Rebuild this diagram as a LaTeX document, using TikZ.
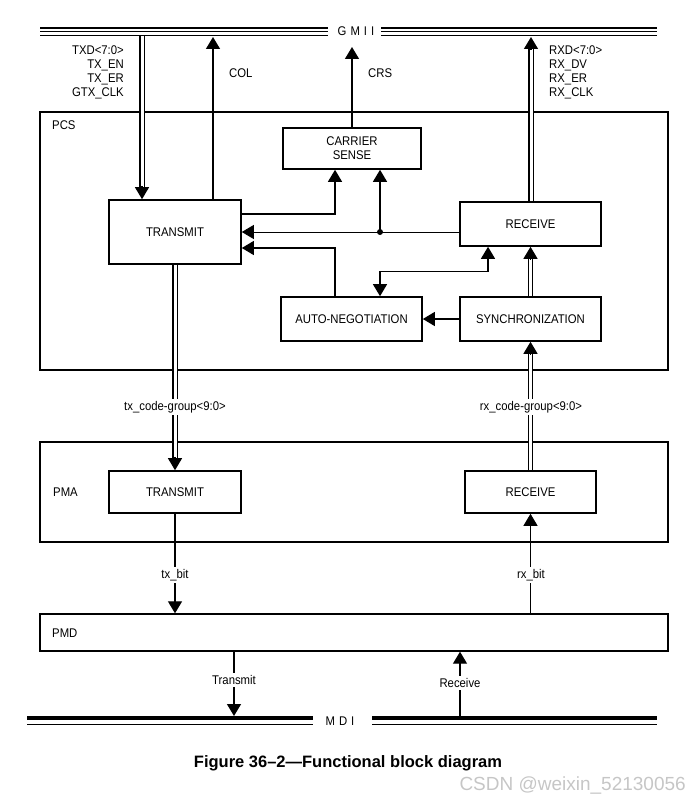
\documentclass[tikz,border=0pt]{standalone}
\usepackage{fontspec}
\setmainfont{Liberation Sans}
\newfontfamily\diafont{Liberation Sans}[FakeStretch=0.9]
\usetikzlibrary{arrows.meta}

\begin{document}
\begin{tikzpicture}[x=1pt,y=-1pt,
  font=\diafont\fontsize{12.6}{13.8}\selectfont,
  >={Triangle[length=12pt,width=14pt]},
  blk/.style={draw,line width=1.6pt,inner sep=0pt,align=center},
  lyr/.style={draw,line width=1.4pt,minimum width=628pt,inner sep=0pt},
  sig/.style={line width=1.3pt},
  fine/.style={line width=0.9pt},
  bus/.style={double,double distance=3pt,line width=1.3pt},
  txt/.style={inner sep=0pt},
  lbl/.style={fill=white,inner sep=2.5pt}]
\useasboundingbox (0,0) rectangle (699,802);

% layers
\node[lyr,minimum height=258pt] (pcs) at (354,241) {};
\node[lyr,minimum height=100pt] (pma) at (354,492) {};
\node[lyr,minimum height=37pt] (pmd) at (354,632.5) {};
\node[txt,anchor=west] (pcsname) at (52,125) {PCS};
\node[txt,anchor=west] (pmaname) at (53,492) {PMA};
\node[txt,anchor=west] (pmdname) at (52,633) {PMD};

% blocks
\node[blk,minimum width=132pt,minimum height=64pt] (ptx) at (175,232) {TRANSMIT};
\node[blk,minimum width=138pt,minimum height=41pt] (cs) at (352,148.5) {CARRIER\\SENSE};
\node[blk,minimum width=141pt,minimum height=44pt] (prx) at (530.5,224) {RECEIVE};
\node[blk,minimum width=141pt,minimum height=44pt] (an) at (351.5,319) {AUTO-NEGOTIATION};
\node[blk,minimum width=141pt,minimum height=44pt] (sync) at (530.5,319) {SYNCHRONIZATION};
\node[blk,minimum width=132pt,minimum height=42pt] (mtx) at (175,492) {TRANSMIT};
\node[blk,minimum width=131pt,minimum height=42pt] (mrx) at (530.5,492) {RECEIVE};

% GMII
\foreach \y in {28,31.6,35.2} {
  \draw[line width=1.3pt] (40,\y) -- (328,\y);
  \draw[line width=1.3pt] (381,\y) -- (657,\y);
}
\node[txt] (gmii) at (356,31.5) {G\hspace{4pt}M\hspace{4pt}I\hspace{4pt}I};
\coordinate (txd) at (142,36);
\coordinate (col) at (213,37);
\coordinate (crs) at (352,47);
\coordinate (rxd) at (531,37);
\node[txt,anchor=north east,align=right] (txlbl) at (124,46) {TXD<7:0>\\TX\_EN\\TX\_ER\\GTX\_CLK};
\node[txt,anchor=north west,align=left] (rxlbl) at (549,46) {RXD<7:0>\\RX\_DV\\RX\_ER\\RX\_CLK};
\node[txt,anchor=west] (collbl) at (229,73) {COL};
\node[txt,anchor=west] (crslbl) at (368,73) {CRS};

\draw[bus] (txd) -- ([yshift=9pt]txd |- ptx.north);
\draw[sig,->] ([yshift=13pt]txd |- ptx.north) -- (txd |- ptx.north);
\draw[sig,->] ([xshift=38pt]ptx.north) -- (col);
\draw[sig,->] (cs.north) -- (crs);
\draw[bus] (rxd |- prx.north) -- ([yshift=-9pt]rxd);
\draw[sig,->] ([yshift=-13pt]rxd) -- (rxd);

% inside PCS
\node[circle,fill,inner sep=0pt,minimum size=6pt] (dot) at (380,232) {};
\draw[fine,->] ([yshift=-8pt]prx.west) -- (ptx.east);
\draw[sig,->] (dot.center) -- (dot |- cs.south);
\draw[sig,->] ([yshift=18pt]ptx.east) -| ([xshift=-17pt]cs.south);
\draw[sig,->] ([xshift=-16.5pt]an.north) |- ([yshift=-16pt]ptx.east);
\draw[sig,<->] ([xshift=-42.5pt]prx.south) -- ++(0,25) -| (dot |- an.north);
\draw[sig,->] (sync) -- (an);
\draw[bus] (sync.north) -- ([yshift=-9pt]prx.south);
\draw[sig,->] ([yshift=-13pt]prx.south) -- (prx.south);

% PCS <-> PMA
\draw[bus] (ptx.south) -- ([yshift=9pt]mtx.north);
\draw[sig,->] ([yshift=13pt]mtx.north) -- (mtx.north);
\draw[bus] (mrx.north) -- ([yshift=-9pt]sync.south);
\draw[sig,->] ([yshift=-13pt]sync.south) -- (sync.south);
\node[lbl] (txcg) at (175,407) {tx\_code-group<9:0>};
\node[lbl] (rxcg) at (531,407) {rx\_code-group<9:0>};

% PMA <-> PMD
\draw[sig,->] (mtx.south) -- (mtx.south |- pmd.north);
\draw[fine,->] (mrx.south |- pmd.north) -- (mrx.south);
\node[lbl] (txbit) at (175,575) {tx\_bit};
\node[lbl] (rxbit) at (531,575) {rx\_bit};

% MDI
\draw[line width=4pt] (27,718) -- (313,718);
\draw[line width=1.5pt] (27,724.5) -- (313,724.5);
\draw[line width=4pt] (372,718) -- (657,718);
\draw[line width=1.5pt] (372,724.5) -- (657,724.5);
\node[txt] (mdi) at (340,721) {M\hspace{4pt}D\hspace{4pt}I};
\coordinate (mdtx) at (234,716);
\coordinate (mdrx) at (460,716);
\draw[sig,->] (mdtx |- pmd.south) -- (mdtx);
\draw[sig,->] (mdrx) -- (mdrx |- pmd.south);
\node[lbl] (txlin) at (234,680) {Transmit};
\node[lbl] (rxlin) at (460,683) {Receive};

\node[txt,anchor=base,font=\rmfamily\bfseries\fontsize{16.5}{20}\selectfont] (title) at (348,767) {Figure 36–2—Functional block diagram};
\node[txt,anchor=base east,text=gray!45,font=\rmfamily\fontsize{19}{22}\selectfont] (wm) at (686,790) {CSDN @weixin\_52130056};
\end{tikzpicture}
\end{document}
